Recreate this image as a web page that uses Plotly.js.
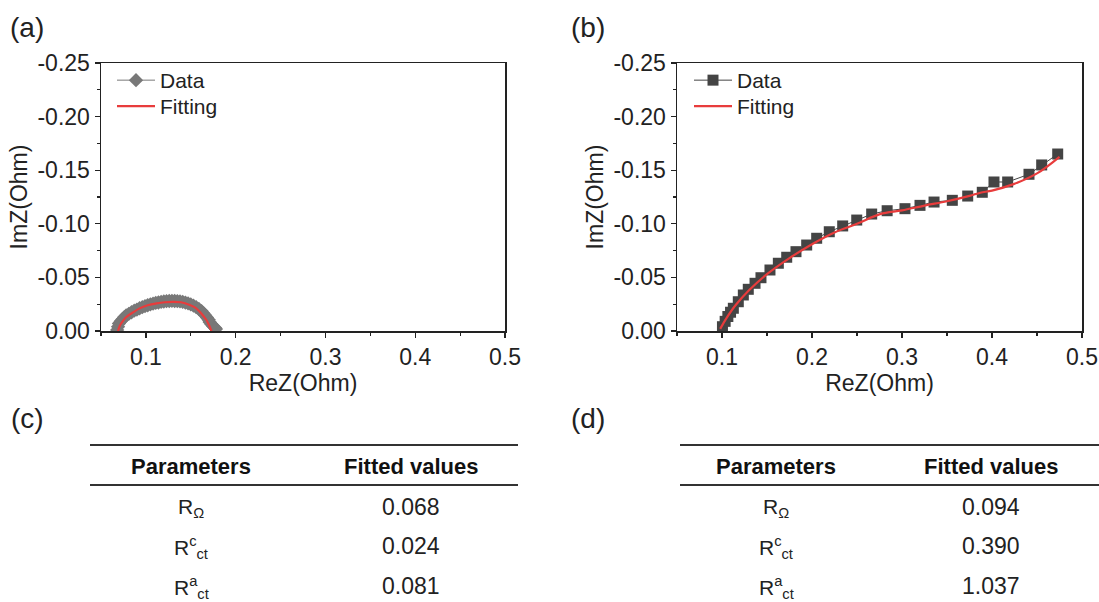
<!DOCTYPE html>
<html><head><meta charset="utf-8">
<script src="https://cdn.plot.ly/plotly-3.0.1.min.js"></script>
<style>html,body{margin:0;padding:0;background:#fff}</style>
</head><body><div id="chart" style="width:1099px;height:602px"></div>
<script>
// ---------- DATA ----------
// Panel (a)
const dataAx = [0.068,0.069,0.070,0.072,0.074,0.076,0.078,0.081,0.084,0.087,0.090,0.093,0.096,0.099,0.102,0.105,0.108,0.111,0.114,0.117,0.120,0.123,0.126,0.129,0.132,0.135,0.138,0.141,0.144,0.147,0.150,0.153,0.156,0.159,0.162,0.164,0.166,0.168,0.170,0.171,0.173,0.175,0.177,0.178];
const dataAy = [-0.001,-0.004,-0.007,-0.009,-0.011,-0.013,-0.0145,-0.016,-0.0175,-0.019,-0.020,-0.0212,-0.0222,-0.0232,-0.0240,-0.0248,-0.0255,-0.0262,-0.0266,-0.0271,-0.0275,-0.0278,-0.0280,-0.0281,-0.0280,-0.0279,-0.0276,-0.0271,-0.0265,-0.0257,-0.0248,-0.0236,-0.0222,-0.0205,-0.0186,-0.0166,-0.0146,-0.0125,-0.0104,-0.0083,-0.0063,-0.0045,-0.0030,-0.0018];
const fitAx = [0.069,0.071,0.0745,0.0785,0.085,0.093,0.102,0.112,0.121,0.130,0.139,0.1489,0.155,0.160,0.1645,0.1674,0.170,0.173];
const fitAy = [0,-0.005,-0.0095,-0.0133,-0.017,-0.0211,-0.024,-0.0258,-0.0268,-0.0272,-0.0268,-0.0243,-0.0218,-0.018,-0.0135,-0.0103,-0.006,0];
// Panel (b)
const dataBx = [0.1005,0.1035,0.1065,0.1095,0.1126,0.1181,0.1237,0.1292,0.1367,0.1433,0.1533,0.1626,0.1719,0.1822,0.1941,0.2052,0.2192,0.2341,0.2497,0.2663,0.2835,0.3033,0.3200,0.3356,0.3559,0.3730,0.3892,0.4022,0.4174,0.4411,0.4552,0.4730];
const dataBy = [-0.004,-0.009,-0.0135,-0.0175,-0.0212,-0.0273,-0.0336,-0.0389,-0.0445,-0.0497,-0.0569,-0.0632,-0.0688,-0.0740,-0.0802,-0.0865,-0.0926,-0.0980,-0.1035,-0.1091,-0.1122,-0.1141,-0.1172,-0.1203,-0.1219,-0.1259,-0.1294,-0.1390,-0.1390,-0.1462,-0.1549,-0.1651];
const fitBx = [0.098,0.105,0.115,0.130,0.150,0.175,0.200,0.225,0.250,0.2756,0.300,0.325,0.350,0.375,0.387,0.400,0.424,0.450,0.475];
const fitBy = [-0.002,-0.012,-0.024,-0.038,-0.053,-0.068,-0.081,-0.092,-0.100,-0.109,-0.1125,-0.117,-0.121,-0.126,-0.129,-0.131,-0.137,-0.147,-0.1625];
// Ticks
const xTickVals = [0.1,0.2,0.3,0.4,0.5];
const xTickText = ["0.1","0.2","0.3","0.4","0.5"];
const xMinorVals = [0.05,0.15,0.25,0.35,0.45];
const yTickVals = [0,-0.05,-0.10,-0.15,-0.20,-0.25];
const yTickText = ["0.00","-0.05","-0.10","-0.15","-0.20","-0.25"];
const yMinorVals = [-0.025,-0.075,-0.125,-0.175,-0.225];
const seriesNames = ["Data","Fitting"];
const panelLabels = ["(a)","(b)","(c)","(d)"];
const xTitle = "ReZ(Ohm)", yTitle = "ImZ(Ohm)";
// Tables
const tableHeaders = ["Parameters","Fitted values"];
const paramLabels = ["R<sub>Ω</sub>","R<sup>c</sup><sub>ct</sub>","R<sup>a</sup><sub>ct</sub>"];
const fittedC = ["0.068","0.024","0.081"];
const fittedD = ["0.094","0.390","1.037"];

// ---------- LAYOUT ----------
const W = 1099, H = 602;
const FONT = "Liberation Sans, Arial, sans-serif";
const px = v => v / W, py = v => 1 - v / H;
const red = "rgb(232,60,60)";

const traces = [
  {x: dataAx, y: dataAy, name: seriesNames[0], mode: "lines+markers", xaxis: "x", yaxis: "y", legend: "legend",
   line: {color: "rgb(120,120,120)", width: 1}, marker: {symbol: "diamond", size: 11, color: "rgb(120,120,120)"}},
  {x: fitAx, y: fitAy, name: seriesNames[1], mode: "lines", xaxis: "x", yaxis: "y", legend: "legend3",
   line: {color: red, width: 2.2, shape: "spline"}},
  {x: dataBx, y: dataBy, name: seriesNames[0], mode: "lines+markers", xaxis: "x2", yaxis: "y2", legend: "legend2",
   line: {color: "rgb(68,68,68)", width: 1}, marker: {symbol: "square", size: 11, color: "rgb(68,68,68)"}},
  {x: fitBx, y: fitBy, name: seriesNames[1], mode: "lines", xaxis: "x2", yaxis: "y2", legend: "legend4",
   line: {color: red, width: 2.2, shape: "spline"}}
];

function xAxis(dom, anchor) {
  return {domain: dom, anchor: anchor, range: [0.05, 0.5], showgrid: false, zeroline: false,
    showline: true, mirror: true, linecolor: "#222", linewidth: 1.5,
    ticks: "outside", ticklen: 5, tickwidth: 1.3, tickcolor: "#222",
    tickmode: "array", tickvals: xTickVals, ticktext: xTickText,
    minor: {tickmode: "array", tickvals: xMinorVals, ticks: "outside", ticklen: 3, tickwidth: 1.2, tickcolor: "#222"},
    tickfont: {family: FONT, size: 23, color: "#222"},
    title: {text: xTitle, font: {family: FONT, size: 23, color: "#222"}, standoff: 3}};
}
function yAxis(dom, anchor) {
  return {domain: dom, anchor: anchor, range: [0, -0.25], showgrid: false, zeroline: false,
    showline: true, mirror: true, linecolor: "#222", linewidth: 1.5,
    ticks: "outside", ticklen: 5, tickwidth: 1.3, tickcolor: "#222",
    tickmode: "array", tickvals: yTickVals, ticktext: yTickText,
    minor: {tickmode: "array", tickvals: yMinorVals, ticks: "outside", ticklen: 3, tickwidth: 1.2, tickcolor: "#222"},
    tickfont: {family: FONT, size: 23, color: "#222"},
    title: {text: yTitle, font: {family: FONT, size: 23, color: "#222"}, standoff: 3}};
}
const yDom = [py(331), py(63)];

const annotations = [];
const panelPos = [[27, 27], [588, 27], [27, 418], [588, 418]];
panelLabels.forEach((t, i) => annotations.push({text: t, xref: "paper", yref: "paper",
  x: px(panelPos[i][0]), y: py(panelPos[i][1]), xanchor: "center", yanchor: "middle", showarrow: false,
  font: {family: FONT, size: 28, color: "#222"}}));

const tables = [
  {x0: 90, x1: 518, c1: 191, c2: 411, vals: fittedC},
  {x0: 680, x1: 1099, c1: 776, c2: 991, vals: fittedD}
];
const rowY = [507, 546, 586];
const shapes = [];
tables.forEach(t => {
  [445, 485].forEach(yy => shapes.push({type: "line", xref: "paper", yref: "paper",
    x0: px(t.x0), x1: px(t.x1), y0: py(yy), y1: py(yy), line: {color: "#333", width: 1.8}}));
  [t.c1, t.c2].forEach((c, j) => annotations.push({text: "<b>" + tableHeaders[j] + "</b>", xref: "paper", yref: "paper",
    x: px(c), y: py(466), xanchor: "center", yanchor: "middle", showarrow: false,
    font: {family: FONT, size: 22, color: "#111"}}));
  paramLabels.forEach((p, r) => {
    annotations.push({text: p, xref: "paper", yref: "paper", x: px(t.c1), y: py(rowY[r] + 1),
      xanchor: "center", yanchor: "middle", showarrow: false, font: {family: FONT, size: 21, color: "#222"}});
    annotations.push({text: t.vals[r], xref: "paper", yref: "paper", x: px(t.c2), y: py(rowY[r]),
      xanchor: "center", yanchor: "middle", showarrow: false, font: {family: FONT, size: 23, color: "#222"}});
  });
});

const legendBase = {yref: "paper", xref: "paper", yanchor: "top", xanchor: "left", bgcolor: "rgba(0,0,0,0)",
  font: {family: FONT, size: 21, color: "#222"}, itemwidth: 38, tracegroupgap: 0};

const layout = {
  width: W, height: H, margin: {l: 0, r: 0, t: 0, b: 0}, paper_bgcolor: "#fff", plot_bgcolor: "#fff",
  font: {family: FONT},
  xaxis: xAxis([px(101), px(505)], "y"), yaxis: yAxis(yDom, "x"),
  xaxis2: xAxis([px(677), px(1082)], "y2"), yaxis2: yAxis(yDom, "x2"),
  legend: Object.assign({x: px(112), y: py(60)}, legendBase),
  legend3: Object.assign({x: px(112), y: py(86)}, legendBase),
  legend2: Object.assign({x: px(689), y: py(60)}, legendBase),
  legend4: Object.assign({x: px(689), y: py(86)}, legendBase),
  showlegend: true, annotations: annotations, shapes: shapes
};
Plotly.newPlot("chart", traces, layout, {displayModeBar: false, staticPlot: true});
</script></body></html>
